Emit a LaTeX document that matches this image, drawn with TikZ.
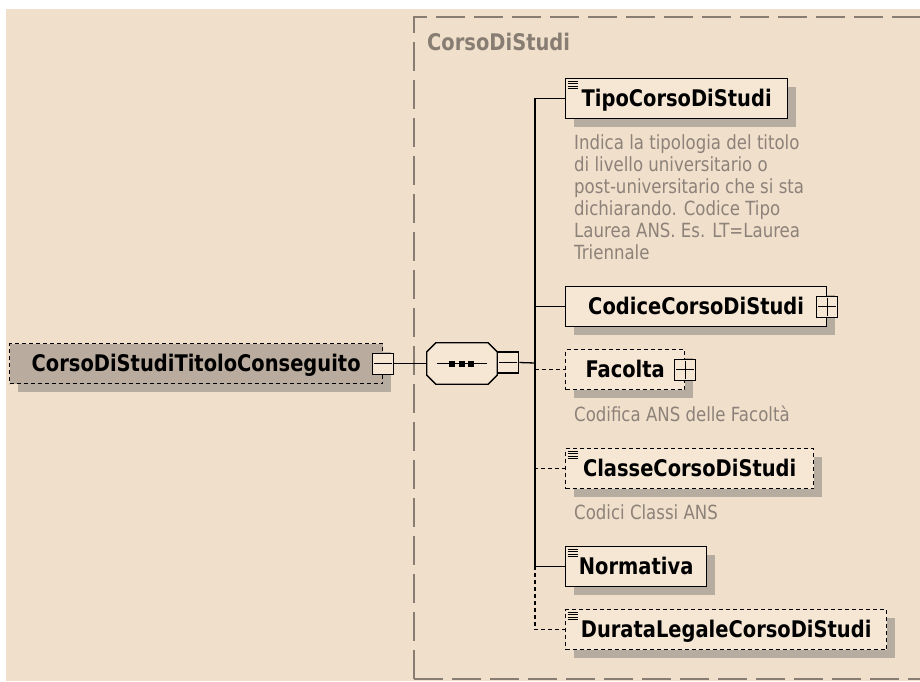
\documentclass[tikz,border=0pt]{standalone}
\usepackage{fontspec}
\setmainfont{DejaVu Sans}[FakeStretch=0.85]
\usetikzlibrary{shadows,calc}
\definecolor{bgc}{RGB}{240,223,203}
\definecolor{boxfill}{RGB}{246,231,213}
\definecolor{rootfill}{RGB}{185,171,157}
\definecolor{shadowc}{RGB}{183,172,160}
\definecolor{descc}{RGB}{140,130,121}
\definecolor{groupc}{RGB}{135,125,115}
\newcommand\elemfont{\fontsize{22.9pt}{26pt}\selectfont\bfseries}
\newcommand\descfont{\fontsize{19.5pt}{22pt}\selectfont}
\newcommand\docicon[1]{\foreach \k in {3,5.5,8,10.5}{\draw[line width=0.9pt] ([shift={(2.5pt,-\k pt)}]#1.north west) -- ++(10,0);}}
\newcommand\plusmark[1]{\draw[line width=1pt] ([xshift=2pt]#1.west) -- ([xshift=-2pt]#1.east); \draw[line width=1pt] ([yshift=-2pt]#1.north) -- ([yshift=2pt]#1.south);}
\newcommand\minusmark[1]{\draw[line width=1pt] ([xshift=2pt]#1.west) -- ([xshift=-2pt]#1.east);}
\begin{document}
\begin{tikzpicture}[x=1pt,y=-1pt,
  elem/.style={draw, line width=1.3pt, fill=boxfill, minimum height=40pt, inner sep=0pt,
    text height=16.5pt, text depth=0pt, font=\elemfont, anchor=north west,
    general shadow={fill=shadowc, shadow xshift=8pt, shadow yshift=-8pt}},
  optelem/.style={elem, dash pattern=on 4pt off 3pt},
  pmbox/.style={draw, line width=1.1pt, fill=boxfill, minimum size=21pt, inner sep=0pt},
  desc/.style={font=\descfont, text=descc, align=left, inner sep=0pt, anchor=base west},
  conn/.style={line width=1.3pt},
  optconn/.style={line width=1.3pt, dash pattern=on 4pt off 3pt},
  grp/.style={draw=groupc, line width=1.5pt, dash pattern=on 29pt off 9pt}]
\useasboundingbox (0,0) rectangle (920,681);
\fill[white] (0,0) rectangle (920,681);
\fill[bgc] (6,9) rectangle (920,681);
% group
\draw[grp] (414,679) -- (414,17) -- (930,17);
\draw[grp] (414,679) -- (930,679);
\node[font=\elemfont, text=groupc, anchor=base west, inner sep=0pt] (grplabel) at (427,50) {CorsoDiStudi};
% elements
\node[optelem, fill=rootfill, minimum width=373pt] (root) at (9,343) {CorsoDiStudiTitoloConseguito};
\node[elem, minimum width=222pt] (tipo) at (565,78) {TipoCorsoDiStudi};
\node[elem, minimum width=261pt] (codice) at (565,286) {CodiceCorsoDiStudi};
\node[optelem, minimum width=119pt] (fac) at (565,349) {Facolta};
\node[optelem, minimum width=248pt] (classe) at (565,448) {ClasseCorsoDiStudi};
\node[elem, minimum width=141pt] (norm) at (565,546) {Normativa};
\node[optelem, minimum width=321pt] (durata) at (565,609) {DurataLegaleCorsoDiStudi};
\docicon{tipo}
\docicon{classe}
\docicon{norm}
\docicon{durata}
% plus/minus boxes
\node[pmbox] (rootpm) at (root.east) {};
\minusmark{rootpm}
\node[pmbox] (codicepm) at (codice.east) {};
\plusmark{codicepm}
\node[pmbox] (facpm) at (fac.east) {};
\plusmark{facpm}
% compositor
\node[minimum width=70pt, minimum height=41pt, inner sep=0pt] (comp) at (462,363.5) {};
\fill[shadowc, shift={(8,8)}] ([xshift=9pt]comp.north west) -- ([xshift=-9pt]comp.north east) -- ([yshift=-9pt]comp.north east) -- ([yshift=9pt]comp.south east) -- ([xshift=-9pt]comp.south east) -- ([xshift=9pt]comp.south west) -- ([yshift=9pt]comp.south west) -- ([yshift=-9pt]comp.north west) -- cycle;
\draw[conn, fill=boxfill] ([xshift=9pt]comp.north west) -- ([xshift=-9pt]comp.north east) -- ([yshift=-9pt]comp.north east) -- ([yshift=9pt]comp.south east) -- ([xshift=-9pt]comp.south east) -- ([xshift=9pt]comp.south west) -- ([yshift=9pt]comp.south west) -- ([yshift=-9pt]comp.north west) -- cycle;
\draw[line width=1.2pt] ([xshift=10pt]comp.west) -- ([xshift=-10pt]comp.east);
\foreach \dx in {-10,0,9}{\fill ([shift={(\dx pt-3pt,-3pt)}]comp.center) rectangle ++(6,-6);}
\node[pmbox, anchor=west] (comppm) at ([yshift=1pt]comp.east) {};
\minusmark{comppm}
% connectors
\coordinate (tr) at (535,363);
\draw[conn] (rootpm.east) -- (rootpm.east -| comp.west);
\draw[conn] (comppm.east) -- (tr);
\draw[optconn] (tr) |- (fac.west);
\draw[optconn] (tr) |- (classe.west);
\draw[optconn] (tr) |- (durata.west);
\draw[conn] (tr) |- (tipo.west);
\draw[conn] (tr) |- (codice.west);
\draw[conn] (tr) |- (norm.west);
% descriptions
\node[desc] (tipodesc) at (574,259) {Indica la tipologia del titolo\\di livello universitario o\\post-universitario che si sta\\dichiarando. Codice Tipo\\Laurea ANS. Es. LT=Laurea\\Triennale};
\node[desc] (facdesc) at (574,421) {Codifica ANS delle Facoltà};
\node[desc] (classedesc) at (574,519) {Codici Classi ANS};
\end{tikzpicture}
\end{document}
